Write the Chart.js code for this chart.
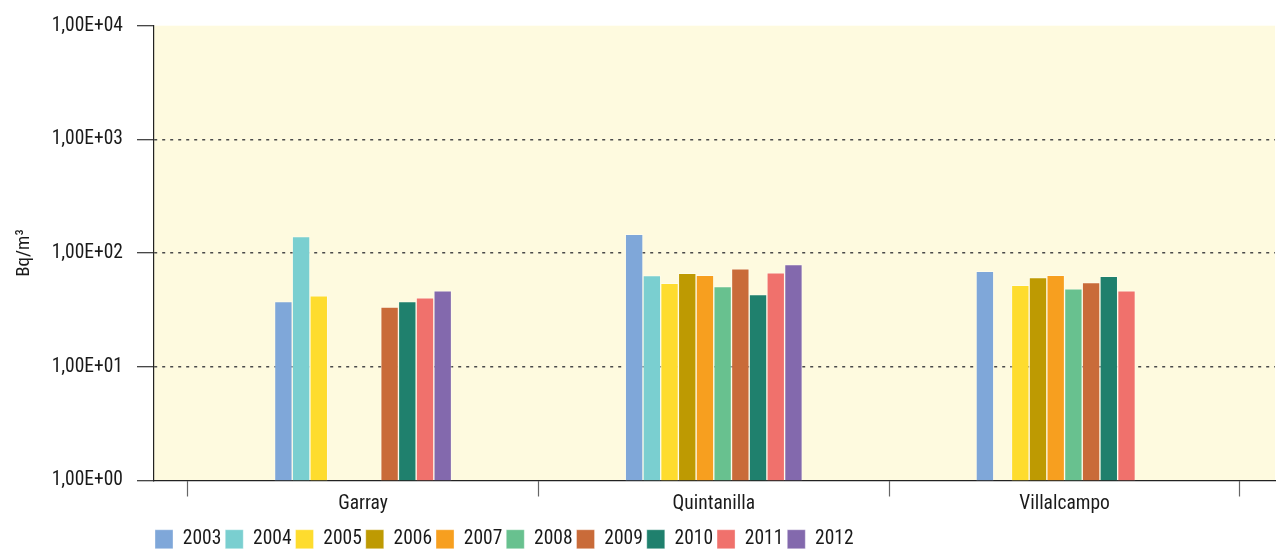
<!DOCTYPE html>
<html>
<head>
<meta charset="utf-8">
<script src="https://cdn.jsdelivr.net/npm/chart.js@4.4.1/dist/chart.umd.min.js"></script>
<style>
  html, body { margin: 0; padding: 0; background: #ffffff; }
  #wrap { width: 1280px; height: 555px; position: relative; }
</style>
</head>
<body>
<div id="wrap"><canvas id="radon-chart"></canvas></div>
<script>
// Categories (sampling sites) and series (years)
const sites = ['Garray', 'Quintanilla', 'Villalcampo'];
const years = ['2003', '2004', '2005', '2006', '2007', '2008', '2009', '2010', '2011', '2012'];

// Values in Bq/m3, one per year (null = no measurement)
const garray      = [37.5, 140, 42, null, null, null, 33.6, 37.5, 40.4, 46.5];
const quintanilla = [146, 63.4, 54.3, 66.5, 63.8, 50.8, 72.6, 43.2, 67, 79.2];
const villalcampo = [69.2, null, 52.1, 60.9, 63.8, 48.4, 55, 62.5, 46.5, null];

// Log axis ticks
const yTicks = [1, 10, 100, 1000, 10000];
const yTickLabels = ['1,00E+00', '1,00E+01', '1,00E+02', '1,00E+03', '1,00E+04'];

const yearColors = [
    '#7FA7D9', // 2003
    '#7ACFD0', // 2004
    '#FEDC2E', // 2005
    '#BE9A02', // 2006
    '#F79F1F', // 2007
    '#68C18F', // 2008
    '#C96B39', // 2009
    '#1F806D', // 2010
    '#F0716C', // 2011
    '#8369AD'  // 2012
];

const siteValues = [garray, quintanilla, villalcampo];

// x is a linear scale: category i sits at x = i, boundaries at half steps
const xBoundaries = [-0.5, 0.5, 1.5, 2.5];

// pick the narrowest installed family, then size it so tick labels keep their width
function pickFont() {
    const c = document.createElement('canvas').getContext('2d');
    const probe = '1,00E+04 Garray 2003';
    c.font = '40px monospace';
    const base = c.measureText(probe).width;
    const candidates = ['Liberation Sans Narrow', 'Roboto Condensed', 'DejaVu Sans Condensed', 'Liberation Sans'];
    let family = 'sans-serif';
    for (const f of candidates) {
        c.font = "40px '" + f + "', monospace";
        if (Math.abs(c.measureText(probe).width - base) > 0.5) { family = "'" + f + "'"; break; }
    }
    c.font = '20px ' + family;
    const w = c.measureText('1,00E+04').width;
    const size = Math.min(20, Math.round(20 * 72 / w * 2) / 2);
    return { family: family + ', sans-serif', size: size };
}
const FONT = pickFont();

const datasets = years.map((year, j) => ({
    label: year,
    data: sites.map((s, i) => ({ x: i, y: siteValues[i][j] })),
    backgroundColor: yearColors[j],
    borderColor: 'rgba(255, 255, 255, 0.35)',
    borderWidth: 1,
    barThickness: 17.7
}));

const tickVal = (ctx) => (ctx && ctx.tick) ? ctx.tick.value : null;

const plotBackground = {
    id: 'plotBackground',
    beforeDraw(chart) {
        const { ctx, chartArea } = chart;
        ctx.save();
        ctx.fillStyle = '#FEFADF';
        ctx.fillRect(chartArea.left, chartArea.top, chartArea.right - chartArea.left, chartArea.bottom - chartArea.top);
        ctx.restore();
    }
};

const LEGEND_PAD = 4;
// Legend starts under the plot's left edge
const legendShift = {
    id: 'legendShift',
    afterLayout(chart) {
        if (chart.legend) {
            chart.legend.left = chart.chartArea.left + 1 - LEGEND_PAD;
            chart.legend.top += 4;
        }
    }
};

new Chart(document.getElementById('radon-chart'), {
    type: 'bar',
    data: { datasets: datasets },
    plugins: [plotBackground, legendShift],
    options: {
        responsive: true,
        maintainAspectRatio: false,
        animation: false,
        layout: { padding: { top: 25, right: 5, left: 0, bottom: 0 } },
        scales: {
            x: {
                type: 'linear',
                offset: false,
                min: -0.596,
                max: 2.6,
                afterBuildTicks: (scale) => {
                    const vals = [];
                    xBoundaries.forEach((b, k) => {
                        vals.push(b);
                        if (k < sites.length) { vals.push(k); }
                    });
                    scale.ticks = vals.map(v => ({ value: v }));
                },
                afterFit: (scale) => { scale.height = 41; },
                ticks: {
                    autoSkip: false,
                    maxRotation: 0,
                    padding: -4,
                    color: '#1a1a1a',
                    font: { family: FONT.family, size: FONT.size },
                    callback: (v) => Number.isInteger(v) ? sites[v] : ''
                },
                grid: {
                    offset: false,
                    drawOnChartArea: false,
                    drawTicks: true,
                    tickLength: 16,
                    tickWidth: 1.2,
                    color: '#666666',
                    tickColor: (ctx) => {
                        const v = tickVal(ctx);
                        return (v !== null && Number.isInteger(v)) ? 'rgba(0,0,0,0)' : '#666666';
                    }
                },
                border: { display: true, color: '#222222', width: 1.2 }
            },
            y: {
                type: 'logarithmic',
                min: 1,
                max: 10000,
                afterBuildTicks: (scale) => {
                    scale.ticks = yTicks.map(v => ({ value: v }));
                },
                afterFit: (scale) => { scale.width = 154; },
                ticks: {
                    padding: 14,
                    color: '#1a1a1a',
                    font: { family: FONT.family, size: FONT.size },
                    callback: (v) => yTickLabels[yTicks.indexOf(v)]
                },
                grid: {
                    drawTicks: true,
                    tickLength: 17,
                    tickWidth: 1.2,
                    tickColor: '#333333',
                    lineWidth: 1.4,
                    color: (ctx) => {
                        const v = tickVal(ctx);
                        return (v === 1 || v === 10000) ? 'rgba(0,0,0,0)' : '#4a4a4a';
                    }
                },
                border: { display: true, color: '#222222', width: 1.2, dash: [3, 5] },
                title: {
                    display: true,
                    text: 'Bq/m³',
                    color: '#1a1a1a',
                    font: { family: FONT.family, size: Math.round(FONT.size * 0.95) },
                    padding: { top: 13, bottom: 4 }
                }
            }
        },
        plugins: {
            legend: {
                position: 'bottom',
                align: 'start',
                labels: {
                    boxWidth: 18,
                    boxHeight: 19,
                    padding: LEGEND_PAD,
                    color: '#1a1a1a',
                    font: { family: FONT.family, size: FONT.size }
                }
            },
            tooltip: { enabled: false }
        }
    }
});
</script>
</body>
</html>
